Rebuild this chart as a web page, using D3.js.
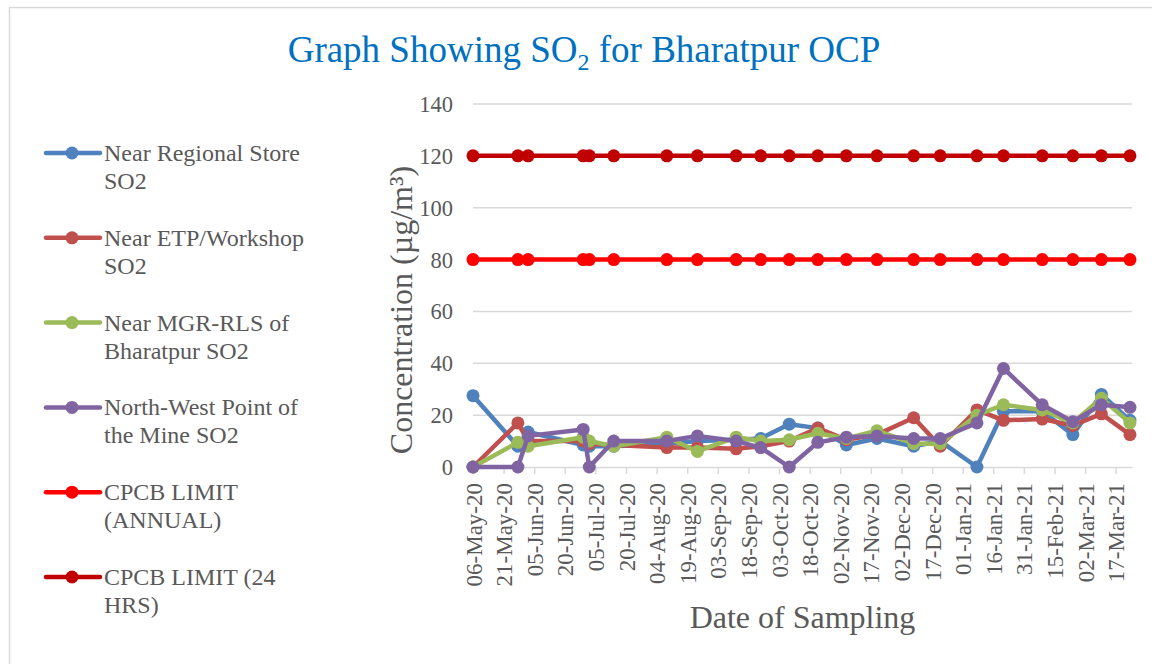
<!DOCTYPE html>
<html>
<head>
<meta charset="utf-8">
<script src="https://cdn.jsdelivr.net/npm/d3@7"></script>
<style>
  body { margin: 0; background: #fff; }
  svg { display: block; }
</style>
</head>
<body>
<div id="chart"></div>
<script>
// sampling dates
const sampleDates = [
  "06-May-20", "28-May-20", "02-Jun-20", "29-Jun-20", "02-Jul-20", "14-Jul-20",
  "09-Aug-20", "24-Aug-20", "12-Sep-20", "24-Sep-20", "08-Oct-20", "22-Oct-20",
  "05-Nov-20", "20-Nov-20", "08-Dec-20", "21-Dec-20", "08-Jan-21", "21-Jan-21",
  "09-Feb-21", "24-Feb-21", "10-Mar-21", "24-Mar-21"
];

const regionalStore = [27.5, 8, 13.5, 8.5, 8, 8, 9, 10, 10.5, 11, 16.5, 15, 8.5, 11, 8, 10, 0, 21.5, 21.5, 12.5, 28, 18];
const etpWorkshop = [0, 17, 10, 10, 9, 8.5, 7.5, 7.5, 7, 8, 10, 15, 10.5, 12.5, 19, 8, 22, 18, 18.5, 16, 20.5, 12.5];
const mgrRls = [0, 9.5, 8, 11.5, 10, 8, 11.5, 6, 11.5, 10, 10.5, 13, 11, 14, 9, 9, 20, 24, 22, 17, 26.5, 17];
const northWest = [0, 0, 12, 14.5, 0, 10, 10, 12, 10, 7.5, 0, 9.5, 11.5, 12, 11, 11, 17, 38, 24, 17.5, 24, 23];
const limitAnnual = sampleDates.map(() => 80);
const limit24h = sampleDates.map(() => 120);

const xTickLabels = [
  "06-May-20", "21-May-20", "05-Jun-20", "20-Jun-20", "05-Jul-20", "20-Jul-20",
  "04-Aug-20", "19-Aug-20", "03-Sep-20", "18-Sep-20", "03-Oct-20", "18-Oct-20",
  "02-Nov-20", "17-Nov-20", "02-Dec-20", "17-Dec-20", "01-Jan-21", "16-Jan-21",
  "31-Jan-21", "15-Feb-21", "02-Mar-21", "17-Mar-21"
];
const yTicks = [0, 20, 40, 60, 80, 100, 120, 140];
const xDomain = ["06-May-20", "25-Mar-21"];

const seriesList = [
  { name: ["Near Regional Store", "SO2"], values: regionalStore, color: "#4F81BD" },
  { name: ["Near ETP/Workshop", "SO2"], values: etpWorkshop, color: "#C0504D" },
  { name: ["Near MGR-RLS of", "Bharatpur SO2"], values: mgrRls, color: "#9BBB59" },
  { name: ["North-West Point of", "the Mine SO2"], values: northWest, color: "#8064A2" },
  { name: ["CPCB LIMIT", "(ANNUAL)"], values: limitAnnual, color: "#FF0000" },
  { name: ["CPCB LIMIT (24", "HRS)"], values: limit24h, color: "#C00000" }
];

const W = 1152, H = 664;
const font = "Liberation Serif";
const textColor = "#595959";
const parse = d3.timeParse("%d-%b-%y");
const dates = sampleDates.map(parse);

const plot = { left: 473, right: 1132, top: 104, bottom: 467 };

const svg = d3.select("#chart").append("svg")
  .attr("width", W)
  .attr("height", H)
  .attr("font-family", font);

// outer chart border
svg.append("rect")
  .attr("x", 9.5).attr("y", 7.5)
  .attr("width", 1200).attr("height", 700)
  .attr("fill", "#fff")
  .attr("stroke", "#d9d9d9")
  .attr("stroke-width", 1.5);

const x = d3.scaleTime()
  .domain(xDomain.map(parse))
  .range([plot.left, plot.right]);

const y = d3.scaleLinear()
  .domain([0, 140])
  .range([plot.bottom, plot.top]);

// gridlines
svg.append("g")
  .selectAll("line")
  .data(yTicks.filter(d => d > 0))
  .enter().append("line")
  .attr("x1", plot.left).attr("x2", plot.right)
  .attr("y1", d => y(d)).attr("y2", d => y(d))
  .attr("stroke", "#d9d9d9")
  .attr("stroke-width", 1.5);

// y axis labels
const yAxis = svg.append("g")
  .attr("transform", `translate(${plot.left - 20},0)`)
  .call(d3.axisLeft(y).tickValues(yTicks).tickSize(0).tickPadding(0));
yAxis.attr("font-family", font).attr("font-size", 22.5);
yAxis.select(".domain").remove();
yAxis.selectAll("text")
  .attr("font-family", font)
  .attr("font-size", 22.5)
  .attr("fill", textColor)
  .attr("dy", null)
  .attr("y", 7.5);

// x axis
const xAxis = svg.append("g")
  .attr("transform", `translate(0,${plot.bottom})`)
  .call(d3.axisBottom(x)
    .tickValues(xTickLabels.map(parse))
    .tickFormat(d3.timeFormat("%d-%b-%y"))
    .tickSizeInner(7)
    .tickSizeOuter(0));
xAxis.attr("font-family", font).attr("font-size", 23);
xAxis.select(".domain")
  .attr("stroke", "#d9d9d9")
  .attr("stroke-width", 1.5);
xAxis.selectAll(".tick line")
  .attr("stroke", "#d9d9d9")
  .attr("stroke-width", 1.5);
xAxis.selectAll("text")
  .attr("font-family", font)
  .attr("font-size", 23)
  .attr("fill", textColor)
  .attr("text-anchor", "end")
  .attr("transform", "rotate(-90)")
  .attr("dy", null)
  .attr("x", -16)
  .attr("y", 8);

// series lines and markers
const line = d3.line()
  .x((d, i) => x(dates[i]))
  .y(d => y(d));

seriesList.forEach(s => {
  const g = svg.append("g");
  g.append("path")
    .datum(s.values)
    .attr("d", line)
    .attr("fill", "none")
    .attr("stroke", s.color)
    .attr("stroke-width", 4.5)
    .attr("stroke-linejoin", "round");
  g.selectAll("circle")
    .data(s.values)
    .enter().append("circle")
    .attr("cx", (d, i) => x(dates[i]))
    .attr("cy", d => y(d))
    .attr("r", 6.5)
    .attr("fill", s.color);
});

// title, split in three pieces so the subscript can sit lower
const titleParts = [
  { t: "Graph Showing SO", size: 37, dy: 0 },
  { t: "2", size: 24, dy: 8 },
  { t: "\u00a0for Bharatpur OCP", size: 37, dy: 0 }
];
const titleNodes = titleParts.map(p => svg.append("text")
  .attr("y", 62 + p.dy)
  .attr("font-family", font)
  .attr("font-size", p.size)
  .attr("fill", "#0070C0")
  .text(p.t));
const widths = titleNodes.map(n => n.node().getComputedTextLength());
let tx = 584 - d3.sum(widths) / 2;
titleNodes.forEach((n, i) => { n.attr("x", tx); tx += widths[i]; });

// axis titles
svg.append("text")
  .attr("transform", `translate(412, 310) rotate(-90)`)
  .attr("text-anchor", "middle")
  .attr("font-family", font)
  .attr("font-size", 32)
  .attr("fill", textColor)
  .text("Concentration (µg/m³)");

svg.append("text")
  .attr("x", (plot.left + plot.right) / 2)
  .attr("y", 628)
  .attr("text-anchor", "middle")
  .attr("font-family", font)
  .attr("font-size", 32)
  .attr("fill", textColor)
  .text("Date of Sampling");

// legend
const legend = svg.append("g");
seriesList.forEach((s, i) => {
  const cy = 153 + i * 84.8;
  const item = legend.append("g").attr("transform", `translate(0,${cy})`);
  item.append("line")
    .attr("x1", 46).attr("x2", 100)
    .attr("y1", 0).attr("y2", 0)
    .attr("stroke", s.color)
    .attr("stroke-width", 4.5)
    .attr("stroke-linecap", "round");
  item.append("circle")
    .attr("cx", 72).attr("cy", 0)
    .attr("r", 6.5)
    .attr("fill", s.color);
  s.name.forEach((t, j) => {
    item.append("text")
      .attr("x", 104)
      .attr("y", j * 28 + 8)
      .attr("font-family", font)
      .attr("font-size", 24)
      .attr("fill", textColor)
      .text(t);
  });
});
</script>
</body>
</html>
